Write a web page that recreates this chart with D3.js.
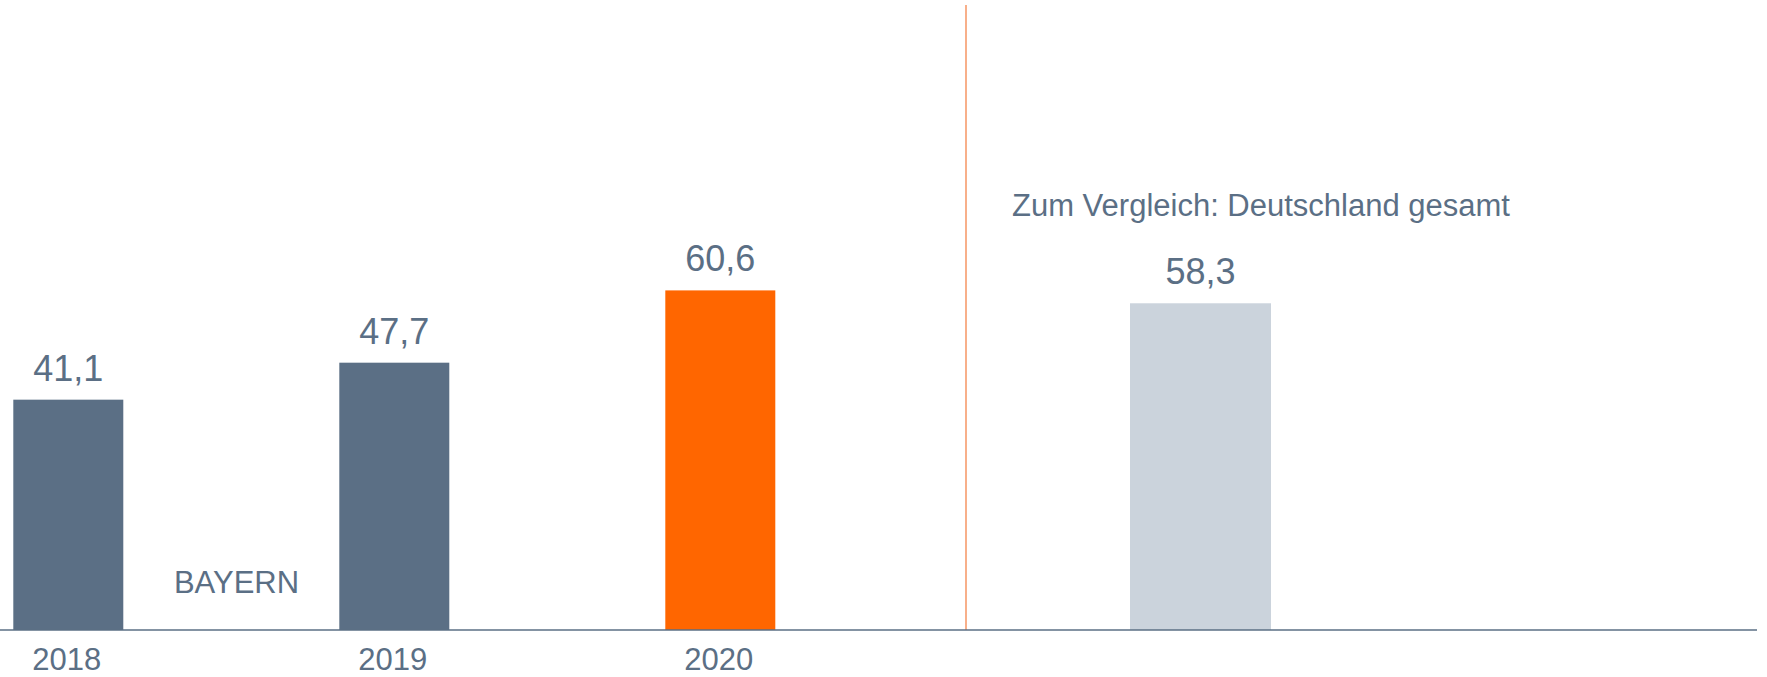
<!DOCTYPE html>
<html>
<head>
<meta charset="utf-8">
<script src="https://cdn.jsdelivr.net/npm/d3@7"></script>
<style>
  body { margin: 0; background: #fff; }
  text { font-family: "Liberation Sans", Arial, sans-serif; }
</style>
</head>
<body>
<div id="vis"></div>
<script>
// data
const years = ["2018", "2019", "2020"];
const bayernValues = [41.1, 47.7, 60.6];
const compareLabel = ["Deutschland"];
const compareValues = [58.3];

const slate = "#5b6f85";
const orange = "#ff6600";
const lightGray = "#cbd3dc";

const svg = d3.select("#vis")
    .append("svg")
    .attr("width", 1767)
    .attr("height", 677);

const baseY = 630;

const y = d3.scaleLinear()
    .domain([0, 110])
    .range([baseY, baseY - 110 * 5.604]);

// left panel: Bayern
const x = d3.scaleBand()
    .domain(years)
    .range([13.3, 775.3])
    .paddingInner(0.6626)
    .paddingOuter(0)
    .align(0);

// right panel: comparison
const x2 = d3.scaleBand()
    .domain(compareLabel)
    .range([966, 1435])
    .padding(0.5377);

const fmt = v => d3.format(".1f")(v).replace(".", ",");

svg.selectAll(".bar")
    .data(years)
    .enter()
    .append("rect")
    .attr("class", "bar")
    .attr("x", d => x(d))
    .attr("width", x.bandwidth())
    .attr("y", (d, i) => y(bayernValues[i]))
    .attr("height", (d, i) => baseY - y(bayernValues[i]))
    .attr("fill", (d, i) => i === years.length - 1 ? orange : slate);

svg.selectAll(".val")
    .data(years)
    .enter()
    .append("text")
    .attr("class", "val")
    .attr("x", d => x(d) + x.bandwidth() / 2)
    .attr("y", (d, i) => y(bayernValues[i]) - 19)
    .attr("text-anchor", "middle")
    .attr("font-size", 36)
    .attr("fill", slate)
    .text((d, i) => fmt(bayernValues[i]));

svg.selectAll(".year")
    .data(years)
    .enter()
    .append("text")
    .attr("class", "year")
    .attr("x", d => x(d) + x.bandwidth() / 2 - 1.5)
    .attr("y", 670)
    .attr("text-anchor", "middle")
    .attr("font-size", 31)
    .attr("fill", slate)
    .text(d => d);

svg.append("text")
    .attr("x", 236.5)
    .attr("y", 593)
    .attr("text-anchor", "middle")
    .attr("font-size", 31)
    .attr("fill", slate)
    .text("BAYERN");

// comparison bar
svg.selectAll(".cbar")
    .data(compareLabel)
    .enter()
    .append("rect")
    .attr("class", "cbar")
    .attr("x", d => x2(d))
    .attr("width", x2.bandwidth())
    .attr("y", (d, i) => y(compareValues[i]))
    .attr("height", (d, i) => baseY - y(compareValues[i]))
    .attr("fill", lightGray);

svg.selectAll(".cval")
    .data(compareLabel)
    .enter()
    .append("text")
    .attr("class", "cval")
    .attr("x", d => x2(d) + x2.bandwidth() / 2)
    .attr("y", (d, i) => y(compareValues[i]) - 19)
    .attr("text-anchor", "middle")
    .attr("font-size", 36)
    .attr("fill", slate)
    .text((d, i) => fmt(compareValues[i]));

svg.append("text")
    .attr("x", 1012)
    .attr("y", 216)
    .attr("font-size", 31)
    .attr("fill", slate)
    .text("Zum Vergleich: Deutschland gesamt");

// divider
svg.append("line")
    .attr("x1", 966)
    .attr("x2", 966)
    .attr("y1", 5)
    .attr("y2", baseY)
    .attr("stroke", "#f47b3c")
    .attr("stroke-width", 1.2);

// baseline
svg.append("line")
    .attr("x1", 0)
    .attr("x2", 1757)
    .attr("y1", baseY)
    .attr("y2", baseY)
    .attr("stroke", slate)
    .attr("stroke-width", 1.5);
</script>
</body>
</html>
